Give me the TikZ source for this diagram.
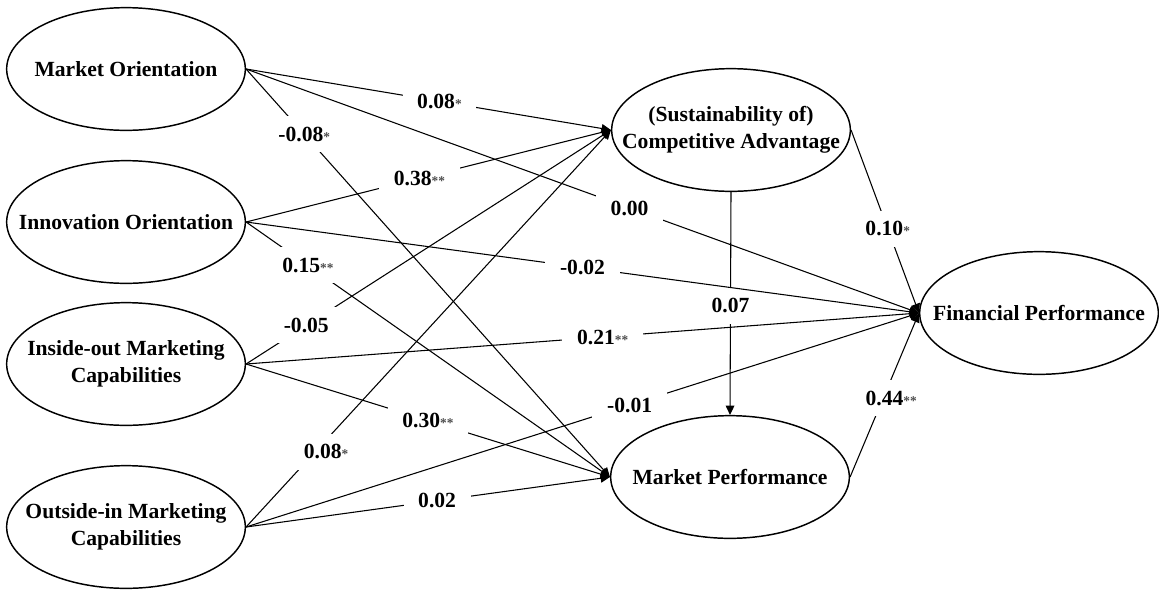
\documentclass[tikz,border=0pt]{standalone}
\usepackage{fontspec}
\setmainfont{Liberation Serif}
\usetikzlibrary{shapes,arrows.meta,positioning}
\tikzset{
    factor/.style={
            ellipse,
            draw,
            line width=1.1pt,
            minimum width=179pt,
            minimum height=92pt,
            inner sep=0pt
        },
    caption/.style={
            align=center,
            font=\fontsize{16.2}{20}\selectfont\bfseries
        },
    coef/.style={
            fill=white,
            inner xsep=11pt,
            inner ysep=8pt,
            font=\fontsize{16.2}{20}\selectfont\bfseries
        },
    connector/.style={
            -{Triangle[length=7pt,width=6.5pt]},
            line width=0.8pt
        }
}
\newcommand{\sig}[1]{{\fontsize{10}{10}\selectfont\color{black!70}#1}}

\begin{document}
\begin{tikzpicture}[x=0.75pt,y=-0.75pt]
  \useasboundingbox (0,0) rectangle (1159,590);
  % constructs
  \node[factor, label={[caption]center:Market Orientation}] (mo) at (126,69) {};
  \node[factor, label={[caption]center:Innovation Orientation}] (io) at (126,222) {};
  \node[factor, label={[caption]center:{Inside-out Marketing\\Capabilities}}] (iomc) at (126,364) {};
  \node[factor, label={[caption]center:{Outside-in Marketing\\Capabilities}}] (oimc) at (126,527) {};
  \node[factor, label={[caption]center:{(Sustainability of)\\Competitive Advantage}}] (sca) at (731,130) {};
  \node[factor, label={[caption]center:Market Performance}] (mp) at (730,477) {};
  \node[factor, label={[caption]center:Financial Performance}] (fp) at (1039,313) {};
  % paths
  \path [connector] (sca.south) edge node[coef,pos=0.51] {0.07} (mp.north);
  \path [connector] (mo.east) edge node[coef,pos=0.53] {0.08\sig{*}} (sca.west);
  \path [connector] (mo.east) edge node[coef,pos=0.57] {0.00} (fp.west);
  \path [connector] (mo.east) edge node[coef,pos=0.16] {-0.08\sig{*}} (mp.west);
  \path [connector] (io.east) edge node[coef,pos=0.475] {0.38\sig{**}} (sca.west);
  \path [connector] (io.east) edge node[coef,pos=0.50] {-0.02} (fp.west);
  \path [connector] (io.east) edge node[coef,pos=0.17] {0.15\sig{**}} (mp.west);
  \path [connector] (iomc.east) edge node[coef,pos=0.165] {-0.05} (sca.west);
  \path [connector] (iomc.east) edge node[coef,pos=0.53] {0.21\sig{**}} (fp.west);
  \path [connector] (iomc.east) edge node[coef,pos=0.50] {0.30\sig{**}} (mp.west);
  \path [connector] (oimc.east) edge node[coef,pos=0.19,xshift=8pt] {0.08\sig{*}} (sca.west);
  \path [connector] (oimc.east) edge node[coef,pos=0.57] {-0.01} (fp.west);
  \path [connector] (oimc.east) edge node[coef,pos=0.525] {0.02} (mp.west);
  \path [connector] (sca.east) edge node[coef,pos=0.54] {0.10\sig{*}} (fp.west);
  \path [connector] (mp.east) edge node[coef,pos=0.48,xshift=6pt] {0.44\sig{**}} (fp.west);
\end{tikzpicture}
\end{document}
